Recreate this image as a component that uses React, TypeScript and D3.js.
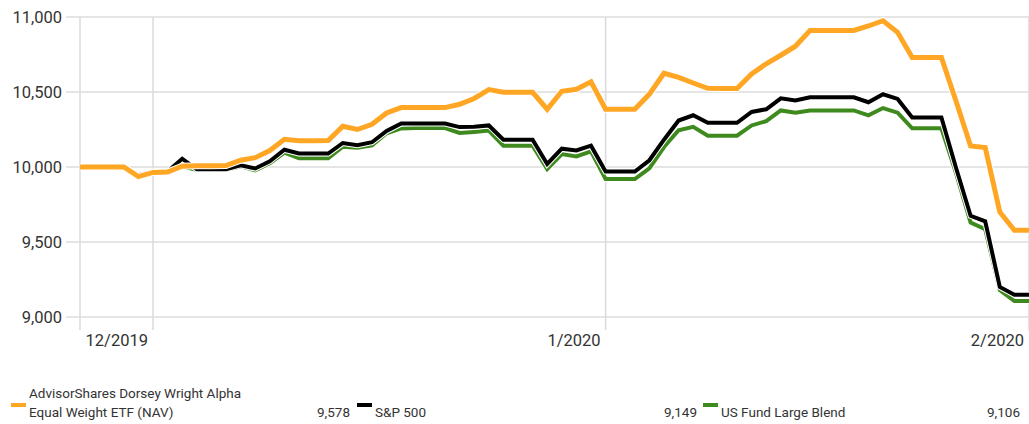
import React from "react";
import * as d3 from "d3";

// daily growth of 10,000, one value per calendar day
const fundValues = [
  10000, 10000, 10000, 10000, 9936, 9964, 9966, 10005, 10008, 10008, 10010, 10045, 10062, 10110, 10185, 10175,
  10175, 10176, 10272, 10250, 10285, 10360, 10396, 10396, 10396, 10396, 10418, 10457, 10516, 10498, 10498, 10498,
  10385, 10505, 10518, 10568, 10385, 10385, 10385, 10486, 10625, 10598, 10560, 10525, 10523, 10523, 10620, 10688,
  10745, 10805, 10910, 10910, 10910, 10910, 10940, 10975, 10898, 10730, 10730, 10730, 10440, 10140, 10130, 9700,
  9578, 9578,
];
const spValues = [
  10000, 10000, 10000, 10000, 9945, 9968, 9970, 10055, 9985, 9985, 9985, 10012, 9990, 10038, 10115, 10090,
  10090, 10090, 10160, 10145, 10165, 10240, 10290, 10290, 10290, 10290, 10266, 10268, 10277, 10182, 10182, 10182,
  10020, 10122, 10110, 10142, 9970, 9970, 9970, 10045, 10182, 10310, 10345, 10295, 10295, 10295, 10367, 10385,
  10458, 10443, 10465, 10465, 10465, 10465, 10432, 10485, 10454, 10330, 10330, 10330, 9995, 9675, 9638, 9200,
  9149, 9149,
];
const blendValues = [
  10000, 10000, 10000, 10000, 9945, 9968, 9970, 10005, 9980, 9980, 9980, 10005, 9978, 10025, 10095, 10058,
  10058, 10058, 10135, 10128, 10145, 10225, 10257, 10260, 10260, 10260, 10227, 10234, 10243, 10142, 10142, 10142,
  9986, 10086, 10070, 10104, 9920, 9920, 9920, 9991, 10133, 10245, 10268, 10209, 10209, 10209, 10277, 10306,
  10377, 10362, 10377, 10377, 10377, 10377, 10344, 10393, 10362, 10258, 10258, 10258, 9960, 9630, 9585, 9180,
  9106, 9106,
];

const yTicks = [9000, 9500, 10000, 10500, 11000];
const monthTicks = [5, 36, 65];
const monthLabels = ["12/2019", "1/2020", "2/2020"];

const seriesNames = ["AdvisorShares Dorsey Wright Alpha|Equal Weight ETF (NAV)", "S&P 500", "US Fund Large Blend"];
const seriesColors = ["#ffa624", "#000000", "#3f8a1e"];
const seriesWidths = [5, 4, 4];

const font = "Roboto, 'Liberation Sans', sans-serif";

export default function App() {
  const W = 1029, H = 424;
  const margin = { left: 80, right: 0, top: 17, bottom: 107 };

  const x = d3.scaleLinear().domain([0, fundValues.length - 1]).range([margin.left, W - margin.right]);
  const y = d3.scaleLinear().domain([9000, 11000]).range([H - margin.bottom, margin.top]);

  const line = d3.line<number>()
    .x((d, i) => x(i))
    .y(d => y(d))
    .curve(d3.curveLinear);

  const allSeries = [fundValues, spValues, blendValues];
  const drawOrder = [2, 1, 0];
  const fmt = d3.format(",");

  const y0 = y(9000);

  return (
    <svg width={W} height={H} style={{ position: "absolute", left: 0, top: 0, background: "#fff" }}>
      {/* horizontal grid + y labels */}
      {yTicks.map(t => (
        <g key={t}>
          <line x1={66} x2={W} y1={y(t)} y2={y(t)} stroke="#dcdcdc" strokeWidth={1.6} />
          <text x={62} y={y(t)} dy="0.36em" textAnchor="end" fontFamily={font} fontSize={16.5} fill="#333">
            {fmt(t)}
          </text>
        </g>
      ))}
      {/* vertical grid */}
      {[0, ...monthTicks].map((t, i) => (
        <line key={i} x1={x(t)} x2={x(t)} y1={margin.top} y2={y0 + 13} stroke="#dcdcdc" strokeWidth={1.6} />
      ))}
      {monthTicks.map((t, i) => (
        <text key={i} x={x(t) - 5} y={y0 + 29} textAnchor="end" fontFamily={font} fontSize={16.5} fill="#333">
          {monthLabels[i]}
        </text>
      ))}

      {/* lines */}
      {drawOrder.map(k => (
        <g key={k}>
          <path d={line(allSeries[k]) || ""} fill="none" stroke="#fff" strokeWidth={seriesWidths[k] + 2} strokeLinejoin="miter" />
          <path d={line(allSeries[k]) || ""} fill="none" stroke={seriesColors[k]} strokeWidth={seriesWidths[k]} strokeLinejoin="miter" />
        </g>
      ))}

      {/* legend */}
      {seriesNames.map((name, i) => {
        const colX = [11, 357, 703][i];
        const valX = [350, 697, 1020][i];
        const lines = name.split("|");
        const last = allSeries[i][allSeries[i].length - 1];
        return (
          <g key={i}>
            <rect x={colX} y={403} width={i === 0 ? 15 : 15} height={4} fill={seriesColors[i]} />
            {lines.map((l, j) => (
              <text key={j} x={colX + 18} y={417 - (lines.length - 1 - j) * 19} fontFamily={font} fontSize={13.5} fill="#333">
                {l}
              </text>
            ))}
            <text x={valX} y={417} textAnchor="end" fontFamily={font} fontSize={13.5} fill="#333">
              {fmt(last)}
            </text>
          </g>
        );
      })}
    </svg>
  );
}
